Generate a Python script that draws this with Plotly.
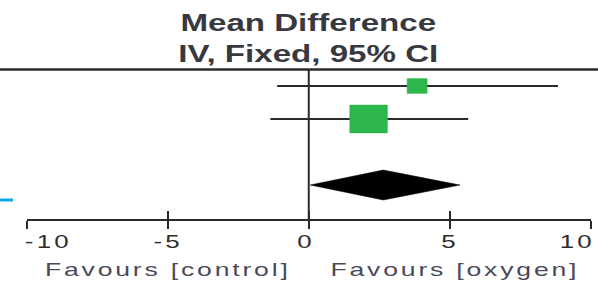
import math
import json
import plotly.graph_objects as go

# ---- data ----
study_rows = [0, 1]            # row index of each study
mean_diff = [3.84, 2.12]
ci_low = [-1.12, -1.36]
ci_high = [8.83, 5.65]
weight = [22.0, 78.0]          # % weight (box area)

pooled_row = 3
pooled_md = 2.64
pooled_low = 0.05
pooled_high = 5.36

tick_vals = [-10, -5, 0, 5, 10]
tick_text = ["-10", "-5", "0", "5", "10"]
favours_left = "Favours [control]"
favours_right = "Favours [oxygen]"
title_lines = ["Mean Difference", "IV, Fixed, 95% CI"]

# ---- geometry helpers ----
W, H = 598, 285
X_LEFT_PX, X_RIGHT_PX = 26.5, 591.0
PX_PER_X = (X_RIGHT_PX - X_LEFT_PX) / 20.0
ROW0_PX, PX_PER_ROW = 86.0, 33.0
AXIS_PX = 219.0
Y_TOP = -ROW0_PX / PX_PER_ROW
Y_BOT = (AXIS_PX - ROW0_PX) / PX_PER_ROW

GREEN = "#2cb64b"
DARK = "#2b2b2b"
FONT = "Liberation Sans, Arial, sans-serif"

fig = go.Figure()

# confidence interval lines
for r, lo, hi in zip(study_rows, ci_low, ci_high):
    fig.add_trace(go.Scatter(x=[lo, hi], y=[r, r], mode="lines",
                             line=dict(color=DARK, width=2), hoverinfo="skip",
                             showlegend=False))

# weighted boxes
for r, m, w in zip(study_rows, mean_diff, weight):
    side = 4.26 * math.sqrt(w)
    hw = side / 2 / PX_PER_X
    hh = side / 1.35 / 2 / PX_PER_ROW
    fig.add_trace(go.Scatter(x=[m - hw, m + hw, m + hw, m - hw, m - hw],
                             y=[r - hh, r - hh, r + hh, r + hh, r - hh],
                             mode="lines", fill="toself", fillcolor=GREEN,
                             line=dict(color=GREEN, width=0.5),
                             hoverinfo="skip", showlegend=False))

# pooled diamond
dh = 15 / PX_PER_ROW
fig.add_trace(go.Scatter(x=[pooled_low, pooled_md, pooled_high, pooled_md, pooled_low],
                         y=[pooled_row, pooled_row - dh, pooled_row, pooled_row + dh, pooled_row],
                         mode="lines", fill="toself", fillcolor="#000000",
                         line=dict(color="#000000", width=0.5),
                         hoverinfo="skip", showlegend=False))

# invisible trace for overlay axis (inner half of ticks)
fig.add_trace(go.Scatter(x=[0], y=[0], xaxis="x2", yaxis="y", mode="markers",
                         marker=dict(opacity=0), hoverinfo="skip", showlegend=False))

dom = [X_LEFT_PX / W, X_RIGHT_PX / W]
common_x = dict(range=[-10, 10], tickvals=tick_vals, showticklabels=False,
                showgrid=False, zeroline=False, fixedrange=True,
                tickcolor=DARK, tickwidth=2, ticklen=8)
fig.update_layout(
    width=W, height=H,
    margin=dict(l=0, r=0, t=0, b=int(H - AXIS_PX)),
    paper_bgcolor="white", plot_bgcolor="white",
    xaxis=dict(domain=dom, showline=True, linecolor=DARK, linewidth=2,
               ticks="outside", anchor="y", **common_x),
    xaxis2=dict(overlaying="x", anchor="y", side="bottom", showline=False,
                ticks="inside", matches="x", **common_x),
    yaxis=dict(range=[Y_BOT, Y_TOP], visible=False, domain=[0, 1], fixedrange=True),
    showlegend=False,
)

# top rule, zero line, blue mark
fig.add_shape(type="line", xref="paper", yref="y", x0=0, x1=1, y0=-0.5, y1=-0.5,
              line=dict(color=DARK, width=2.5))
fig.add_shape(type="line", xref="x", yref="y", x0=0, x1=0, y0=-0.5, y1=Y_BOT,
              line=dict(color=DARK, width=2), layer="below")
fig.add_shape(type="line", xref="paper", yref="paper", x0=0, x1=13 / W,
              y0=(AXIS_PX - 200) / AXIS_PX, y1=(AXIS_PX - 200) / AXIS_PX,
              line=dict(color="#12a8e8", width=3))

text_style = []  # [letter spacing px, horizontal stretch] per annotation (style only)

# title
fig.add_annotation(x=0, xref="x", y=(AXIS_PX - 37.5) / AXIS_PX, yref="paper",
                   text="<b>" + "<br>".join(title_lines) + "</b>", showarrow=False,
                   xanchor="center", yanchor="middle",
                   font=dict(family=FONT, size=24, color="#383840"))
text_style.append([0, 1.38])

# tick labels
shifts = {0: 22, 2: -3, len(tick_vals) - 1: -14}
for i, (v, t) in enumerate(zip(tick_vals, tick_text)):
    fig.add_annotation(x=v, xref="x", y=(AXIS_PX - 241) / AXIS_PX, yref="paper",
                       text=t, showarrow=False, xanchor="center", yanchor="middle",
                       xshift=shifts.get(i, 0),
                       font=dict(family=FONT, size=18.5, color="#2e2e2e"))
    text_style.append([2.3, 1.4])

# favours labels
fig.add_annotation(x=-5, xref="x", y=(AXIS_PX - 269) / AXIS_PX, yref="paper",
                   text=favours_left, showarrow=False, xanchor="center", yanchor="middle",
                   font=dict(family=FONT, size=19, color="#4a4a5a"))
text_style.append([2.0, 1.4])
fig.add_annotation(x=5.18, xref="x", y=(AXIS_PX - 269) / AXIS_PX, yref="paper",
                   text=favours_right, showarrow=False, xanchor="center", yanchor="middle",
                   font=dict(family=FONT, size=19, color="#4a4a5a"))
text_style.append([2.0, 1.4])

post = """
document.body.style.margin='0';
document.body.style.overflow='hidden';
var gd = document.getElementById('{plot_id}');
var ST = %s;
function applyStyle(){
  gd.querySelectorAll('g.annotation').forEach(function(a){
    var i = parseInt(a.getAttribute('data-index'));
    var t = a.querySelector('text.annotation-text');
    if (t && ST[i] !== undefined) {
      t.style.letterSpacing = ST[i][0] + 'px';
      t.style.transformBox = 'fill-box';
      t.style.transformOrigin = 'center';
      t.style.transform = 'scaleX(' + ST[i][1] + ')';
    }
  });
}
applyStyle();
if (gd.on) { gd.on('plotly_afterplot', applyStyle); }
setTimeout(applyStyle, 0);
""" % json.dumps(text_style)

fig.write_html("out.html", post_script=post, config={"displayModeBar": False})
